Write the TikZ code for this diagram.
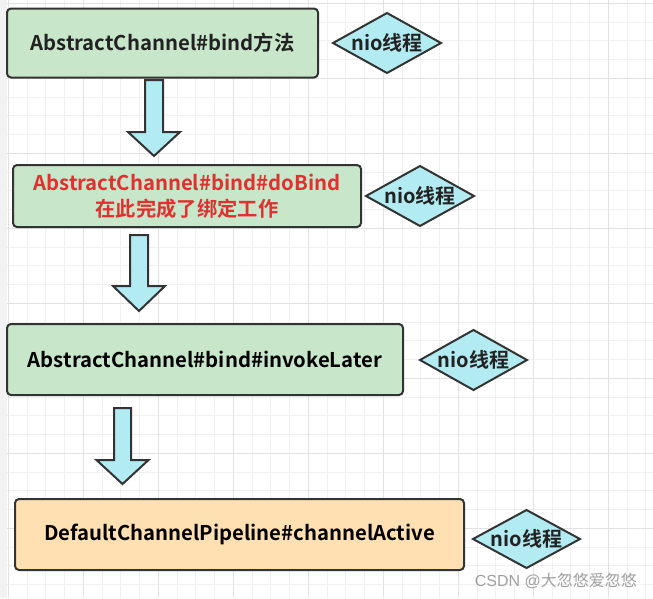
\documentclass[tikz,border=0pt]{standalone}
\usepackage{fontspec}
\setmainfont{Noto Sans CJK SC}
\newfontfamily\cjkb{Noto Sans CJK SC Bold}
\newfontfamily\wmfont{Liberation Sans}
\newfontfamily\wmcjk{Noto Sans CJK SC}
\usetikzlibrary{shapes.geometric}
\definecolor{gridminor}{HTML}{F0F0F0}
\definecolor{gridmajor}{HTML}{E2E2E2}
\definecolor{stripgray}{HTML}{F2F2F2}
\definecolor{boxgreen}{HTML}{C8E6C9}
\definecolor{boxorange}{HTML}{FFE0B2}
\definecolor{cyanfill}{HTML}{B2EBF2}
\definecolor{edgedark}{HTML}{333333}
\definecolor{textdark}{HTML}{222222}
\definecolor{textred}{HTML}{E03131}
\definecolor{wmgray}{HTML}{A0A0A0}
\tikzset{
  flowbox/.style={draw=edgedark, line width=2pt, rounded corners=4pt, fill=boxgreen, inner sep=0pt, font=\cjkb\fontsize{20.3}{24}\selectfont, text=textdark, align=center},
  threadlabel/.style={inner sep=0pt, font=\cjkb\fontsize{20}{24}\selectfont, text=textdark},
  diamondedge/.style={draw=edgedark, line width=2pt, fill=cyanfill, line join=miter},
  blockarrow/.style={draw=edgedark, line width=2pt, fill=cyanfill, line join=miter}
}
\newcommand{\dnarrow}[5]{% xcenter, ytop, yhead, ytip, shafthalf
  \path[blockarrow] (#1-#5,#2) -- (#1+#5,#2) -- (#1+#5,#3) -- (#1+26,#3) -- (#1,#4) -- (#1-26,#3) -- (#1-#5,#3) -- cycle;}
\newcommand{\threaddiamond}[5]{% name, x, y, halfwidth, halfheight
  \path[diamondedge] (#2-#4,#3) -- (#2,#3-#5) -- (#2+#4,#3) -- (#2,#3+#5) -- cycle;
  \node[threadlabel] (#1) at (#2,#3) {nio线程};}
\begin{document}
\begin{tikzpicture}[x=1pt,y=-1pt]
\useasboundingbox (0,0) rectangle (653,598);
\fill[white] (0,0) rectangle (653,598);
\fill[stripgray] (0,0) rectangle (7,598);
% grid
\foreach \i in {0,...,34} {
  \pgfmathsetmacro{\xx}{8.3+18.75*\i}
  \draw[gridminor, line width=1pt] (\xx,0) -- (\xx,598);
}
\foreach \i in {0,...,32} {
  \pgfmathsetmacro{\yy}{3.3+18.75*\i}
  \draw[gridminor, line width=1pt] (7,\yy) -- (653,\yy);
}
\foreach \i in {0,...,8} {
  \pgfmathsetmacro{\xx}{8.3+75*\i}
  \draw[gridmajor, line width=1.2pt] (\xx,0) -- (\xx,598);
}
\foreach \i in {0,...,7} {
  \pgfmathsetmacro{\yy}{3.3+75*\i}
  \draw[gridmajor, line width=1.2pt] (7,\yy) -- (653,\yy);
}
% boxes
\node[flowbox, minimum width=311pt, minimum height=69pt] (b1) at (162.5,43) {AbstractChannel\#bind方法};
\node[flowbox, minimum width=348pt, minimum height=62pt, text=textred, font=\cjkb\fontsize{20.3}{26}\selectfont] (b2) at (187,196) {AbstractChannel\#bind\#doBind\\在此完成了绑定工作};
\node[flowbox, minimum width=396pt, minimum height=71pt, text=black] (b3) at (205,359.5) {AbstractChannel\#bind\#invokeLater};
\node[flowbox, fill=boxorange, minimum width=449pt, minimum height=71pt, text=black] (b4) at (239.5,534.5) {DefaultChannelPipeline\#channelActive};
% diamonds
\threaddiamond{d1}{387}{43}{54}{30}
\threaddiamond{d2}{420}{196}{54}{30}
\threaddiamond{d3}{473.5}{360}{53.5}{30}
\threaddiamond{d4}{526.5}{539}{53.5}{29}
% block arrows
\dnarrow{154}{80}{132}{156}{9}
\dnarrow{139}{235}{286}{311}{9}
\dnarrow{122.5}{408}{460}{484}{8.5}
% watermark
\node[anchor=east, text=wmgray, inner sep=0pt] (wm) at (637,581) {\wmfont\fontsize{16}{18}\selectfont CSDN @\wmcjk 大忽悠爱忽悠};
\end{tikzpicture}
\end{document}
